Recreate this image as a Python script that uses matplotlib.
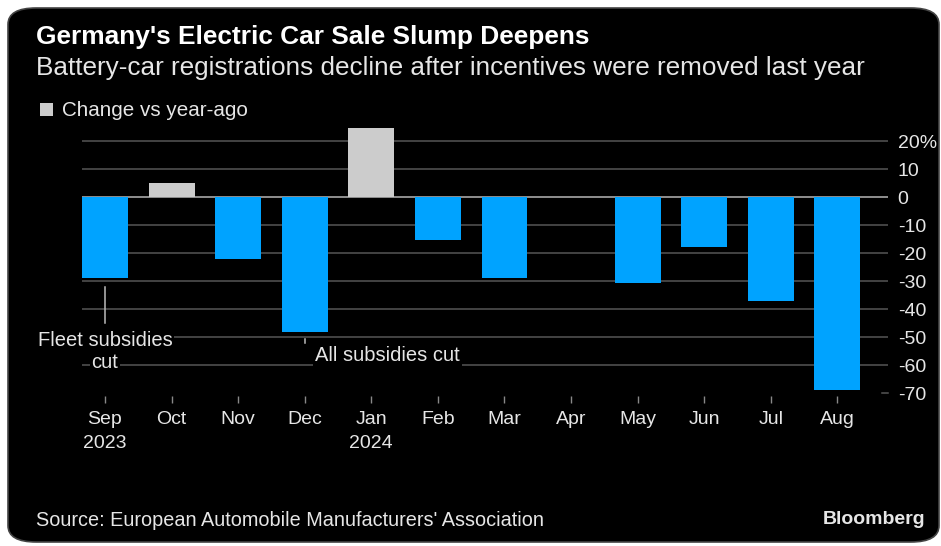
import matplotlib
matplotlib.use("Agg")
import matplotlib.pyplot as plt
from matplotlib.patches import FancyBboxPatch, Rectangle
import matplotlib.transforms as mtransforms

months = ["Sep", "Oct", "Nov", "Dec", "Jan", "Feb", "Mar", "Apr", "May", "Jun", "Jul", "Aug"]
year_labels = {0: "2023", 4: "2024"}
changes = [-29, 5, -22, -48, 24.5, -15.5, -29, 0, -30.5, -18, -37, -69]
yticks = [20, 10, 0, -10, -20, -30, -40, -50, -60, -70]
ytick_labels = ["20%", "10", "0", "-10", "-20", "-30", "-40", "-50", "-60", "-70"]

BLUE = "#00A3FF"
GRAY = "#CCCCCC"
BG = "#000000"
TXT = "#E6E6E6"
GRID = "#555555"

plt.rcParams['font.family'] = ['Liberation Sans', 'DejaVu Sans']

W, H = 941, 546
fig = plt.figure(figsize=(W / 100, H / 100), dpi=100)
fig.patch.set_facecolor("white")

# rounded dark panel
panel = FancyBboxPatch((8 / W, 4 / H), (W - 10) / W, (H - 12) / H,
                       boxstyle="round,pad=0,rounding_size=0.03",
                       transform=fig.transFigure, facecolor=BG,
                       edgecolor="#444444", linewidth=1.2, zorder=-5)
fig.patches.append(panel)

ax_left, ax_right = 82 / W, 888 / W
ax_top, ax_bot = 1 - 127 / H, 1 - 396 / H
ax = fig.add_axes([ax_left, ax_bot, ax_right - ax_left, ax_top - ax_bot])
ax.set_facecolor("none")
ax.set_zorder(2)

x = list(range(len(months)))
colors = [GRAY if v > 0 else BLUE for v in changes]
ax.bar(x, changes, width=0.69, color=colors, zorder=3)

ax.set_xlim(-0.345, 11.76)
ax.set_ylim(-71, 25)

# gridlines
for t in yticks:
    if t == -70:
        continue
    if t == 0:
        ax.axhline(t, color="#9A9A9A", lw=1.3, zorder=2)
    else:
        ax.axhline(t, color=GRID, lw=1.1, zorder=1)
# short tick at -70
trans = mtransforms.blended_transform_factory(ax.transAxes, ax.transData)
ax.plot([0.992, 1.0], [-70, -70], color=GRID, lw=1.1, transform=trans, clip_on=False)

ax.yaxis.tick_right()
ax.set_yticks(yticks)
ax.set_yticklabels(ytick_labels)
ax.tick_params(axis="y", length=0, pad=7, labelsize=14, labelcolor=TXT)
for lab in ax.get_yticklabels():
    lab.set_horizontalalignment("left")

ax.set_xticks(x)
xl = [m + ("\n" + year_labels[i] if i in year_labels else "") for i, m in enumerate(months)]
ax.set_xticklabels(xl, linespacing=1.55, va="top")
ax.tick_params(axis="x", direction="out", length=5, width=1, color="#888888",
               pad=5.5, labelsize=14, labelcolor=TXT)

for s in ax.spines.values():
    s.set_visible(False)

# annotations
box = dict(facecolor=BG, edgecolor="none", pad=0.8)
ax.plot([0, 0], [-32, -45], color="#BBBBBB", lw=1.1, zorder=4)
ax.text(0, -51.2, "Fleet subsidies", ha="center", va="center", fontsize=14.5,
        color=TXT, zorder=5, clip_on=False, bbox=box)
ax.text(0, -59.2, "cut", ha="center", va="center", fontsize=14.5,
        color=TXT, zorder=5, clip_on=False, bbox=box)
ax.plot([3, 3], [-50.6, -52], color="#BBBBBB", lw=1.1, zorder=4)
ax.text(3.16, -56.5, "All subsidies cut", ha="left", va="center", fontsize=14.5,
        color=TXT, zorder=5, bbox=dict(facecolor=BG, edgecolor="none", pad=1.5))

# titles
fig.text(36 / W, 1 - 37 / H, "Germany's Electric Car Sale Slump Deepens", fontsize=18.9,
         fontweight="bold", color="white", ha="left", va="center")
fig.text(36 / W, 1 - 68 / H, "Battery-car registrations decline after incentives were removed last year",
         fontsize=18.8, color=TXT, ha="left", va="center")

# legend
fig.patches.append(Rectangle((40 / W, 1 - 116 / H), 13 / W, 13 / H, transform=fig.transFigure,
                             facecolor=GRAY, edgecolor="none"))
fig.text(62 / W, 1 - 110 / H, "Change vs year-ago", fontsize=14.9, color=TXT,
         ha="left", va="center")

# footer
fig.text(36 / W, 1 - 521 / H, "Source: European Automobile Manufacturers' Association",
         fontsize=14.3, color=TXT, ha="left", va="center")
fig.text(925 / W, 1 - 519 / H, "Bloomberg", fontsize=14, fontweight="bold", color=TXT,
         ha="right", va="center")

fig.savefig("out.png", dpi=100, facecolor=fig.get_facecolor())
